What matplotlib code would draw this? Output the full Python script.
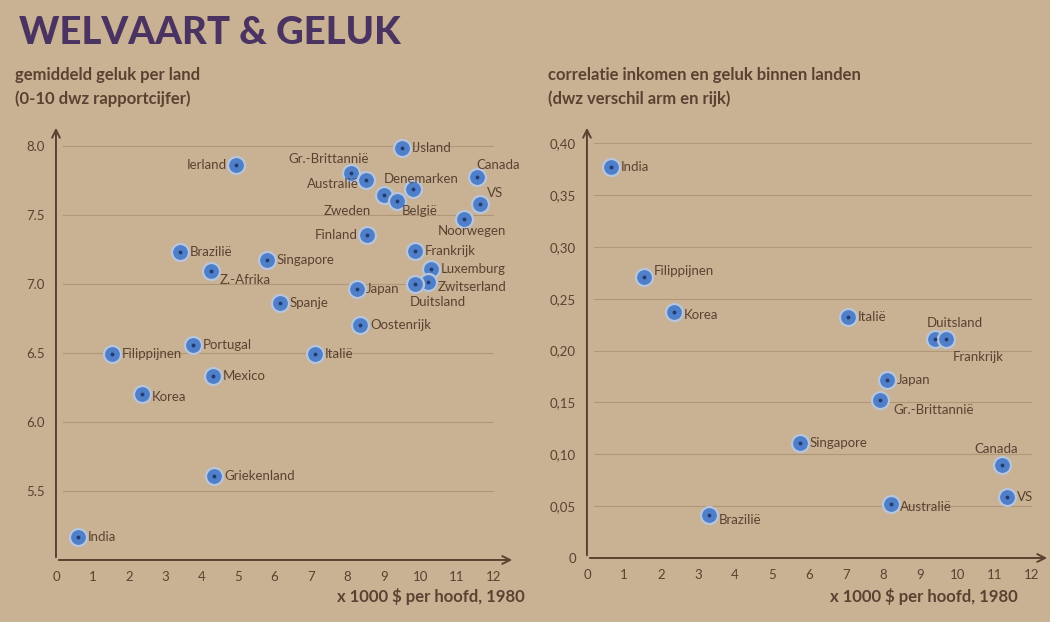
import matplotlib.pyplot as plt

# colours
paper = '#c9b194'
ink = '#5a4232'
title_col = '#4a3360'
dot_col = '#4f7fc9'
halo_col = '#b7c6dc'
grid_col = '#a88d6c'

plt.rcParams['font.family'] = ['Lato', 'DejaVu Sans']

# left chart: average happiness per country vs income
left_countries = ['IJsland', 'Ierland', 'Gr.-Brittannië', 'Australië', 'Denemarken', 'Canada',
                  'VS', 'Noorwegen', 'Zweden', 'België', 'Finland', 'Frankrijk', 'Luxemburg',
                  'Zwitserland', 'Duitsland', 'Japan', 'Oostenrijk', 'Spanje', 'Singapore',
                  'Z.-Afrika', 'Brazilië', 'Portugal', 'Filippijnen', 'Italië', 'Mexico',
                  'Korea', 'Griekenland', 'India']
left_income = [9.5, 4.95, 8.1, 8.5, 9.8, 11.55, 11.65, 11.2, 9.0, 9.35, 8.55, 9.85, 10.3,
               10.2, 9.85, 8.25, 8.35, 6.15, 5.8, 4.25, 3.4, 3.75, 1.55, 7.1, 4.3,
               2.35, 4.35, 0.6]
left_happiness = [7.98, 7.86, 7.8, 7.75, 7.69, 7.77, 7.58, 7.47, 7.64, 7.6, 7.35, 7.24, 7.11,
                  7.01, 7.0, 6.96, 6.7, 6.86, 7.17, 7.09, 7.23, 6.56, 6.49, 6.49, 6.33,
                  6.2, 5.61, 5.17]

# right chart: correlation income-happiness within countries
right_countries = ['India', 'Filippijnen', 'Korea', 'Italië', 'Duitsland', 'Frankrijk', 'Japan',
                   'Gr.-Brittannië', 'Singapore', 'Canada', 'VS', 'Australië', 'Brazilië']
right_income = [0.65, 1.55, 2.35, 7.05, 9.4, 9.7, 8.1, 7.9, 5.75, 11.2, 11.35, 8.2, 3.3]
right_corr = [0.377, 0.271, 0.237, 0.232, 0.211, 0.211, 0.172, 0.152, 0.111, 0.09, 0.059,
              0.052, 0.041]

left_yticks = [5.5, 6.0, 6.5, 7.0, 7.5, 8.0]
right_yticks = [0, 0.05, 0.10, 0.15, 0.20, 0.25, 0.30, 0.35, 0.40]
xticks = list(range(13))

# label offsets in points (dx, dy, ha)
left_offsets = {
    'IJsland': (7, 0, 'left'), 'Ierland': (-7, 0, 'right'),
    'Gr.-Brittannië': (13, 10, 'right'), 'Australië': (-5, -3, 'right'),
    'Denemarken': (6, 7, 'center'), 'Canada': (0, 9, 'left'), 'VS': (5, 8, 'left'),
    'Noorwegen': (-19, -9, 'left'), 'Zweden': (-9, -11, 'right'), 'België': (4, -7, 'left'),
    'Finland': (-7, 0, 'right'), 'Zwitserland': (7, -3, 'left'),
    'Duitsland': (-4, -13, 'left'), 'Z.-Afrika': (6, -6, 'left'), 'Korea': (7, -2, 'left'),
}
right_offsets = {
    'Filippijnen': (7, 4, 'left'), 'Korea': (7, -2, 'left'),
    'Duitsland': (-6, 12, 'left'), 'Frankrijk': (5, -13, 'left'),
    'Gr.-Brittannië': (10, -7, 'left'), 'Australië': (7, -2, 'left'),
    'Brazilië': (7, -3, 'left'), 'Canada': (-4, 11, 'center'),
}

fig = plt.figure(figsize=(10.5, 6.22), dpi=100, facecolor=paper)


def draw_panel(ax, xs, ys, names, offsets, yticks, ylabels, ylim, xlim):
    ax.set_facecolor('none')
    ax.set_xlim(*xlim)
    ax.set_ylim(*ylim)
    for s in ax.spines.values():
        s.set_visible(False)
    for t in yticks:
        if t > ylim[0]:
            ax.plot([xlim[0] + 0.2, 12.0], [t, t], color=grid_col, lw=0.8, alpha=0.7, zorder=1)
    # arrow axes
    ax.annotate('', xy=(0, 1), xytext=(0, 0), xycoords='axes fraction',
                arrowprops=dict(arrowstyle='->', color=ink, lw=1.4, mutation_scale=14))
    ax.annotate('', xy=(1, 0), xytext=(0, 0), xycoords='axes fraction',
                arrowprops=dict(arrowstyle='->', color=ink, lw=1.4, mutation_scale=14))
    ax.set_xticks(xticks)
    ax.set_xticklabels([str(v) for v in xticks])
    ax.set_yticks(yticks)
    ax.set_yticklabels(ylabels)
    ax.tick_params(length=0, colors=ink, labelsize=9.5, pad=8)
    ax.scatter(xs, ys, s=150, color=dot_col, edgecolors=halo_col, linewidths=1.6, zorder=3)
    ax.scatter(xs, ys, s=3, color='#1f3b70', zorder=4)
    for x, y, n in zip(xs, ys, names):
        dx, dy, ha = offsets.get(n, (7, 0, 'left'))
        ax.annotate(n, (x, y), xytext=(dx, dy), textcoords='offset points',
                    ha=ha, va='center', fontsize=9.5, color=ink, zorder=5,
                    annotation_clip=False)


ax1 = fig.add_axes([0.0533, 0.0997, 0.4372, 0.6993])
draw_panel(ax1, left_income, left_happiness, left_countries, left_offsets,
           left_yticks, ['%.1f' % v for v in left_yticks], (5.0, 8.15), (0, 12.6))

ax2 = fig.add_axes([0.559, 0.1029, 0.441, 0.6961])
draw_panel(ax2, right_income, right_corr, right_countries, right_offsets,
           right_yticks, ['0'] + [('%.2f' % v).replace('.', ',') for v in right_yticks[1:]],
           (0, 0.4175), (0, 12.5))

# titles and texts
fig.text(0.018, 0.929, 'WELVAART & GELUK', fontsize=27.5, fontweight='black',
         color=title_col, va='baseline')
fig.text(0.014, 0.872, 'gemiddeld geluk per land', fontsize=12, fontweight='bold',
         color=ink, va='baseline')
fig.text(0.014, 0.832, '(0-10 dwz rapportcijfer)', fontsize=12, fontweight='bold',
         color=ink, va='baseline')
fig.text(0.522, 0.872, 'correlatie inkomen en geluk binnen landen', fontsize=12,
         fontweight='bold', color=ink, va='baseline')
fig.text(0.522, 0.832, '(dwz verschil arm en rijk)', fontsize=12, fontweight='bold',
         color=ink, va='baseline')
fig.text(0.5, 0.032, 'x 1000 $ per hoofd, 1980', fontsize=12, fontweight='bold',
         color=ink, ha='right', va='baseline')
fig.text(0.79, 0.032, 'x 1000 $ per hoofd, 1980', fontsize=12, fontweight='bold',
         color=ink, ha='left', va='baseline')

fig.savefig('out.png', dpi=100, facecolor=paper)
